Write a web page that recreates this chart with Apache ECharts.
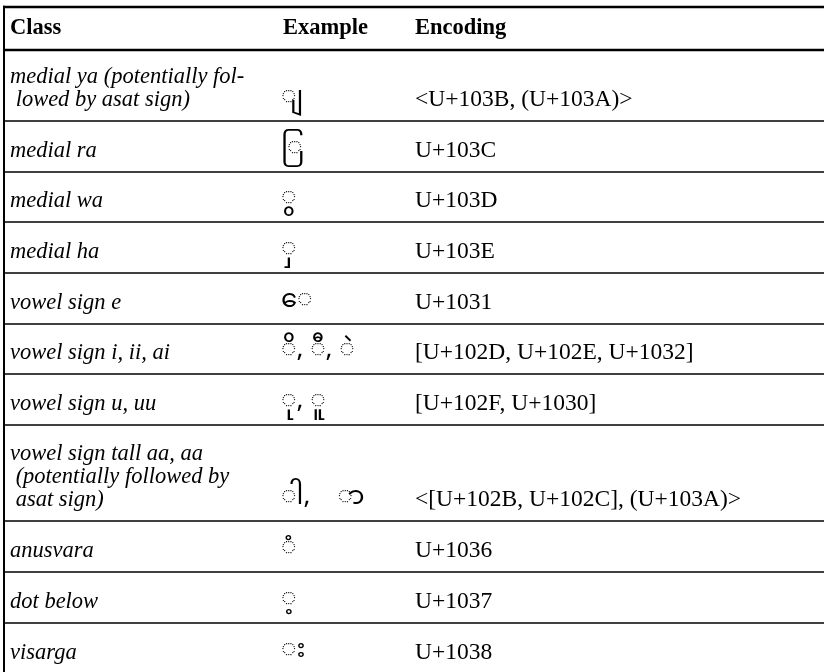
<!DOCTYPE html>
<html>
<head>
<meta charset="utf-8">
<script src="https://cdn.jsdelivr.net/npm/echarts@6/dist/echarts.min.js"></script>
<style>html,body{margin:0;padding:0;background:#fff}#c{width:824px;height:672px}</style>
</head>
<body>
<div id="c"></div>
<script>
// ---- data ----
const headers = ['Class', 'Example', 'Encoding'];
const classes = [
  'medial ya (potentially fol-\n lowed by asat sign)',
  'medial ra',
  'medial wa',
  'medial ha',
  'vowel sign e',
  'vowel sign i, ii, ai',
  'vowel sign u, uu',
  'vowel sign tall aa, aa\n (potentially followed by\n asat sign)',
  'anusvara',
  'dot below',
  'visarga'
];
const examples = [
  '\u25CC\u103B',
  '\u25CC\u103C',
  '\u25CC\u103D',
  '\u25CC\u103E',
  '\u25CC\u1031',
  '\u25CC\u102D, \u25CC\u102E, \u25CC\u1032',
  '\u25CC\u102F, \u25CC\u1030',
  '\u25CC\u102B,    \u25CC\u102C',
  '\u25CC\u1036',
  '\u25CC\u1037',
  '\u25CC\u1038'
];
const encodings = [
  '<U+103B, (U+103A)>',
  'U+103C',
  'U+103D',
  'U+103E',
  'U+1031',
  '[U+102D, U+102E, U+1032]',
  '[U+102F, U+1030]',
  '<[U+102B, U+102C], (U+103A)>',
  'U+1036',
  'U+1037',
  'U+1038'
];

// ---- layout ----
const W = 824, H = 672;
const tableTop = 7, headerBottom = 50;
const rowHeights = [71, 51, 50, 51, 51, 50, 51, 96, 51, 51, 51];
const colX = [10, 281, 415];
const headX = [10, 283, 415];
const lineH = 23;
const bottomPad = 21;

const rows = [];
let y = headerBottom;
classes.forEach(function (c, i) {
  rows.push([i, y, y + rowHeights[i]]);
  y += rowHeights[i];
});

const serif = '"Liberation Serif", "Times New Roman", serif';

function renderRow(params, api) {
  const i = api.value(0);
  const bot = api.value(2);
  const pL = api.coord([3, bot]);
  const pR = api.coord([W, bot]);
  const base = api.coord([0, bot - bottomPad]);
  const lines = classes[i].split('\n');
  const children = [];
  children.push({
    type: 'line',
    shape: { x1: pL[0], y1: pL[1], x2: pR[0], y2: pR[1] },
    style: { stroke: '#000', lineWidth: 1.3 }
  });
  lines.forEach(function (ln, k) {
    const yy = base[1] - (lines.length - 1 - k) * lineH;
    children.push({
      type: 'text',
      x: api.coord([colX[0], 0])[0], y: yy,
      style: { text: ln, font: 'italic 22.5px ' + serif, fill: '#000', textVerticalAlign: 'middle', textAlign: 'left' }
    });
  });
  children.push({
    type: 'text',
    x: api.coord([colX[1], 0])[0], y: base[1] + 1,
    style: { text: examples[i], font: '26px "Noto Sans Myanmar", Padauk, "DejaVu Sans", sans-serif', fill: '#000', textVerticalAlign: 'middle', textAlign: 'left' }
  });
  children.push({
    type: 'text',
    x: api.coord([colX[2], 0])[0], y: base[1],
    style: { text: encodings[i], font: '23.5px ' + serif, fill: '#000', textVerticalAlign: 'middle', textAlign: 'left' }
  });
  return { type: 'group', children: children };
}

function renderHeader(params, api) {
  const idx = api.value(0);
  const p = api.coord([headX[idx], (tableTop + headerBottom) / 2]);
  return {
    type: 'text', x: p[0], y: p[1],
    style: { text: headers[idx], font: 'bold 22.5px ' + serif, fill: '#000', textVerticalAlign: 'middle', textAlign: 'left' }
  };
}

function renderFrame(params, api) {
  const a = api.coord([0, tableTop]);
  const b = api.coord([W, tableTop]);
  const c = api.coord([0, headerBottom]);
  const d = api.coord([W, headerBottom]);
  const lx = api.coord([4, 0])[0];
  const e = api.coord([0, H]);
  return {
    type: 'group', children: [
      { type: 'line', shape: { x1: a[0] + 3, y1: a[1], x2: b[0], y2: b[1] }, style: { stroke: '#000', lineWidth: 2.5 } },
      { type: 'line', shape: { x1: c[0] + 3, y1: c[1], x2: d[0], y2: d[1] }, style: { stroke: '#000', lineWidth: 2.5 } },
      { type: 'line', shape: { x1: lx, y1: a[1] - 1.2, x2: lx, y2: e[1] }, style: { stroke: '#000', lineWidth: 2 } }
    ]
  };
}

const chart = echarts.init(document.getElementById('c'), null, { renderer: 'canvas' });
chart.setOption({
  animation: false,
  backgroundColor: '#fff',
  grid: { left: 0, right: 0, top: 0, bottom: 0 },
  xAxis: { type: 'value', min: 0, max: W, show: false },
  yAxis: { type: 'value', min: 0, max: H, inverse: true, show: false },
  series: [
    { type: 'custom', renderItem: renderRow, data: rows, clip: false },
    { type: 'custom', renderItem: renderHeader, data: headers.map(function (h, i) { return [i]; }), clip: false },
    { type: 'custom', renderItem: renderFrame, data: [[0]], clip: false }
  ]
});
</script>
</body>
</html>
